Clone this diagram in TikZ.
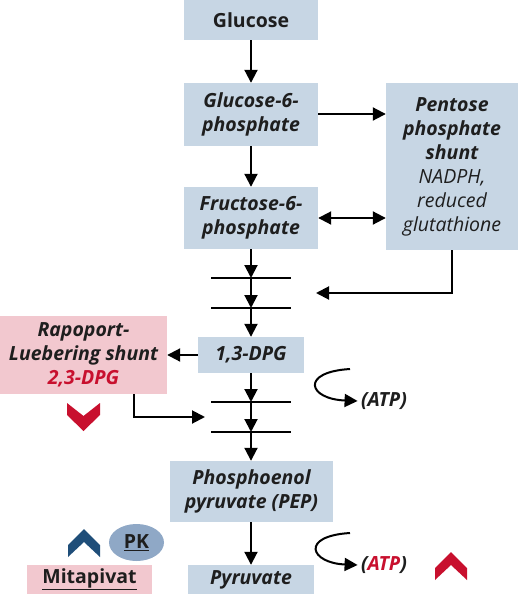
\documentclass[tikz,border=0pt]{standalone}
\usepackage{fontspec}
\setmainfont{Open Sans}
\usepackage{tikz}
\usetikzlibrary{arrows.meta, positioning, calc, shapes.geometric}
\definecolor{boxblue}{RGB}{199, 214, 228}
\definecolor{boxpink}{RGB}{242, 200, 207}
\definecolor{myred}{RGB}{200, 16, 46}
\definecolor{mydarkblue}{RGB}{31, 78, 121}
\definecolor{pkblue}{RGB}{143, 168, 198}
\definecolor{mytext}{RGB}{30, 30, 30}

\begin{document}
\begin{tikzpicture}[x=1pt, y=-1pt,
    font=\fontsize{19.5}{24}\selectfont\bfseries\itshape,
    step box/.style={rectangle, fill=boxblue, text=mytext, align=center, inner sep=0pt},
    arr/.style={-{Triangle[width=13pt, length=13pt]}, line width=2pt},
    bar line/.style={line width=2pt}]
    \useasboundingbox (0,0) rectangle (520,594);

    % Hauptweg
    \node[step box, minimum width=134pt, minimum height=40pt] (glucose) at (251,20) {\upshape Glucose};
    \node[step box, minimum width=134pt, minimum height=63pt] (g6p) at (251,114.5) {Glucose-6-\\phosphate};
    \node[step box, minimum width=134pt, minimum height=62pt] (f6p) at (251,218) {Fructose-6-\\phosphate};
    \draw[arr] (glucose) -- (g6p);
    \draw[arr] (g6p) -- (f6p);

    % Pentosephosphatweg
    \node[step box, minimum width=132pt, minimum height=167pt] (pentose) at (452,166.5)
        {Pentose\\phosphate\\shunt\\\mdseries NADPH,\\\mdseries reduced\\\mdseries glutathione};
    \draw[arr] (g6p.east |- 0,114) -- (pentose.west |- 0,114);
    \draw[{Triangle[width=13pt, length=13pt]}-{Triangle[width=13pt, length=13pt]}, line width=2pt]
        (f6p.east) -- (pentose.west |- f6p.east);

    % Querbalken
    \foreach \name/\y in {bar1/278, bar2/308, bar3/402, bar4/432} {
        \coordinate (\name) at (251,\y);
        \draw[bar line] (211,\y) -- (291,\y);
    }
    \coordinate (ret) at (316,293);
    \draw[arr] (pentose.south) |- (ret);

    % 1,3-DPG
    \node[step box, minimum width=106pt, minimum height=36pt] (dpg) at (251,355) {1,3-DPG};
    \draw[arr] (f6p) -- (bar1);
    \draw[arr] (bar1) -- (bar2);
    \draw[arr] (bar2) -- (dpg);

    % Rapoport-Luebering
    \node[rectangle, fill=boxpink, text=mytext, align=center, inner sep=0pt,
        minimum width=167pt, minimum height=78pt] (rl) at (83.5,355)
        {Rapoport-\\Luebering shunt\\\textcolor{myred}{2,3-DPG}};
    \draw[arr] (dpg) -- (rl);
    \coordinate (rlin) at (205,417);
    \draw[arr] ([xshift=-33pt]rl.south east) |- (rlin);
    \fill[myred] (67,403) -- (83.5,416) -- (100,403) -- (100,415) -- (83.5,431) -- (67,415) -- cycle;

    % ATP 1
    \node[text=mytext] (atp1) at (384,401) {(ATP)};
    \coordinate (c1) at (350,369);
    \draw[arr] (c1) .. controls (300,372) and (308,399) .. (atp1.west);

    \draw[arr] (dpg) -- (bar3);
    \draw[arr] (bar3) -- (bar4);

    % PEP und Pyruvat
    \node[step box, minimum width=163pt, minimum height=61pt] (pep) at (251.5,491.5) {Phosphoenol\\pyruvate (PEP)};
    \node[step box, minimum width=126pt, minimum height=29pt] (pyr) at (251,579.5) {Pyruvate};
    \draw[arr] (bar4) -- (pep.north -| bar4);
    \draw[arr] (pep.south -| pyr.north) -- (pyr);

    % ATP 2
    \node[text=mytext] (atp2) at (384,565) {(\textcolor{myred}{ATP})};
    \coordinate (c2) at (350,533);
    \draw[arr] (c2) .. controls (300,536) and (310,563) .. (atp2.west);
    \fill[myred] (435,568) -- (451,552) -- (467,568) -- (467,580) -- (451,565) -- (435,580) -- cycle;

    % PK und Mitapivat
    \fill[mydarkblue] (68,545) -- (84,529) -- (100,545) -- (100,557) -- (84,542) -- (68,557) -- cycle;
    \node[ellipse, fill=pkblue, text=mytext, inner sep=0pt, minimum width=55pt, minimum height=37pt] (pk) at (136.5,542.5)
        {\upshape\underline{PK}};
    \node[rectangle, fill=boxpink, text=mytext, inner sep=0pt, minimum width=125pt, minimum height=29pt] (mita) at (89.5,579.5)
        {\upshape\underline{Mitapivat}};
\end{tikzpicture}
\end{document}
